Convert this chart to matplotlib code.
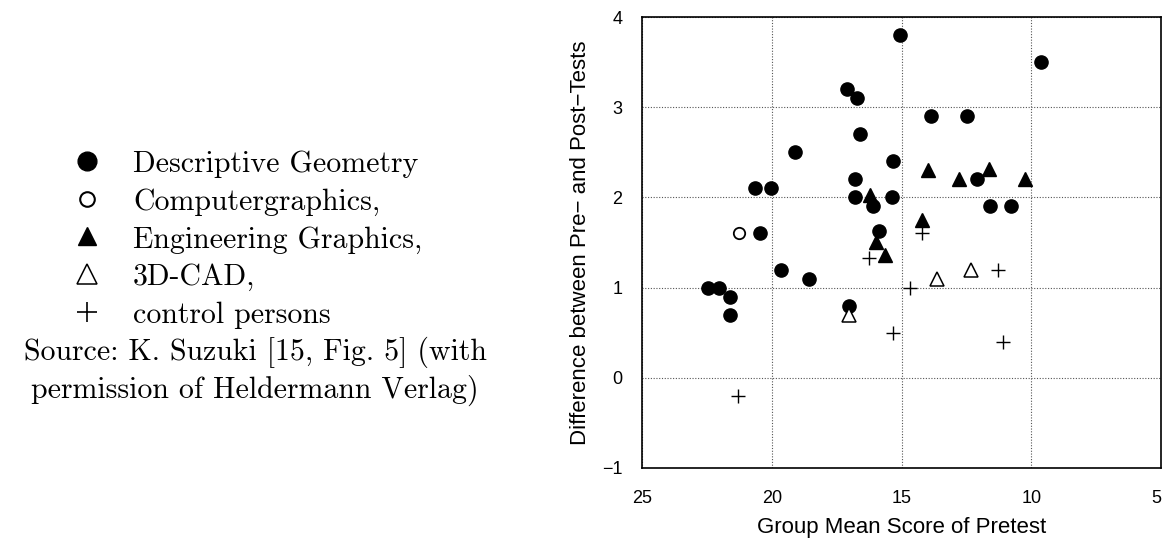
import matplotlib
matplotlib.use("Agg")
import matplotlib.pyplot as plt

# group mean pretest score (x) vs. gain between pre- and post-tests (y)
desc_x = [22.47, 22.03, 21.59, 21.59, 19.65, 18.57, 17.03, 20.65, 20.03, 20.46,
          19.11, 17.1, 16.71, 16.6, 16.8, 16.8, 15.05, 9.61, 13.88, 12.47,
          15.31, 12.08, 16.09, 15.38, 11.6, 10.78, 15.86]
desc_y = [1.0, 1.0, 0.9, 0.7, 1.2, 1.1, 0.8, 2.1, 2.1, 1.6,
          2.5, 3.2, 3.1, 2.7, 2.2, 2.0, 3.8, 3.5, 2.9, 2.9,
          2.4, 2.2, 1.9, 2.0, 1.9, 1.9, 1.63]
cg_x = [21.28]
cg_y = [1.6]
eng_x = [13.98, 12.77, 11.63, 10.23, 16.2, 14.21, 15.99, 15.64]
eng_y = [2.3, 2.2, 2.32, 2.2, 2.03, 1.75, 1.5, 1.36]
cad_x = [17.03, 13.62, 12.32]
cad_y = [0.7, 1.1, 1.2]
ctrl_x = [21.3, 14.21, 16.25, 14.69, 11.28, 15.34, 11.1]
ctrl_y = [-0.2, 1.6, 1.33, 1.0, 1.2, 0.5, 0.4]

x_ticks = [25, 20, 15, 10, 5]
y_ticks = [-1, 0, 1, 2, 3, 4]

legend_labels = ["Descriptive Geometry", "Computergraphics,", "Engineering Graphics,",
                 "3D-CAD,", "control persons"]
source_lines = ["Source: K. Suzuki [15, Fig. 5] (with",
                "permission of Heldermann Verlag)"]

W, H = 1163, 542
fig = plt.figure(figsize=(W / 100, H / 100), dpi=100)

sans = ["Liberation Sans", "DejaVu Sans"]
serif = ["cmr10", "DejaVu Serif"]

# main scatter axes
ax = fig.add_axes([642 / W, 1 - 468 / H, (1161 - 642) / W, (468 - 17) / H])
ax.plot(desc_x, desc_y, "o", color="black", ms=9.5, ls="none", zorder=3)
ax.plot(cg_x, cg_y, "o", mfc="white", mec="black", mew=1.3, ms=8.2, ls="none", zorder=3)
ax.plot(eng_x, eng_y, "^", color="black", ms=10, ls="none", zorder=3)
ax.plot(cad_x, cad_y, "^", mfc="white", mec="black", mew=1.1, ms=9.5, ls="none", zorder=3)
ax.plot(ctrl_x, ctrl_y, "+", color="black", mew=1.0, ms=10, ls="none", zorder=3)

ax.set_xlim(25, 5)
ax.set_ylim(-1, 4)
ax.set_xticks(x_ticks)
ax.set_yticks(y_ticks)
ax.set_xticklabels([str(t) for t in x_ticks], family=sans, fontsize=13)
ax.set_yticklabels([str(t).replace("-", "\u2212") for t in y_ticks], family=sans, fontsize=13)
ax.get_xticklabels()[-1].set_ha("right")
ax.tick_params(length=0, pad=16)
ax.tick_params(axis="y", pad=14)
ax.grid(True, ls=(0, (1, 1.5)), color="#555555", lw=0.8)
for s in ax.spines.values():
    s.set_linewidth(1.2)
ax.set_xlabel("Group Mean Score of Pretest", family=sans, fontsize=16, va="center")
ax.xaxis.set_label_coords(0.5, (468 - 528) / 451)
ax.set_ylabel("Difference between Pre\u2212 and Post\u2212Tests", family=sans,
              fontsize=16, va="center")
ax.yaxis.set_label_coords((580 - 642) / 519, 0.5)

# hand-made legend on the left
lax = fig.add_axes([0, 0, 1, 1], zorder=-1)
lax.set_xlim(0, W)
lax.set_ylim(H, 0)
lax.axis("off")
styles = [dict(marker="o", color="black", ms=13.5),
          dict(marker="o", mfc="white", mec="black", mew=1.5, ms=10.5),
          dict(marker="^", color="black", ms=13.5),
          dict(marker="^", mfc="white", mec="black", mew=1.1, ms=15),
          dict(marker="+", color="black", mew=1.2, ms=15)]
base = 172
step = 37.7
for i, (lab, st) in enumerate(zip(legend_labels, styles)):
    yb = base + i * step
    lax.plot([87], [yb - 11], ls="none", **st)
    lax.text(133, yb, lab, family=serif, fontsize=21.5, va="baseline", ha="left")
for j, line in enumerate(source_lines):
    yb = base + (len(legend_labels) + j) * step
    lax.text(255, yb, line, family=serif, fontsize=21.5, va="baseline", ha="center")

fig.savefig("out.png", dpi=100)
